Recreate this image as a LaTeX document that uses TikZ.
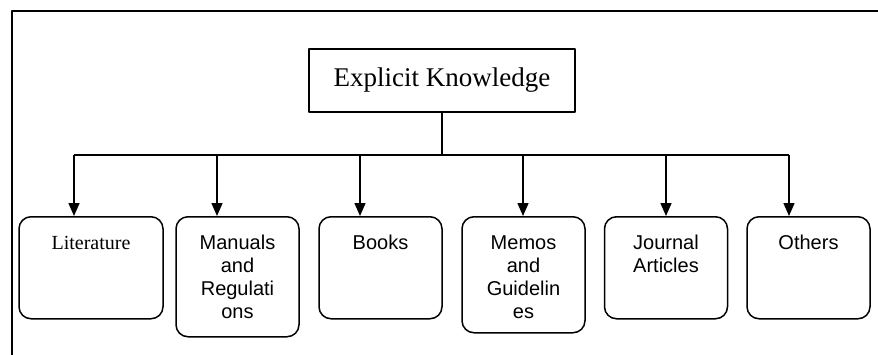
\documentclass[tikz,border=0pt]{standalone}
\usepackage{fontspec}
\setmainfont{Liberation Serif}
\setsansfont{Liberation Sans}
\usetikzlibrary{arrows.meta}

\tikzset{
	kbox/.style={draw, rounded corners=6pt, line width=0.75pt, anchor=north, align=center,
		text width=55.5pt, inner xsep=3pt, inner ysep=4.5pt, text height=12pt, text depth=30pt,
		font=\sffamily\fontsize{10}{11.5}\selectfont},
	topbox/.style={draw, line width=0.75pt, minimum width=133pt, minimum height=31.5pt,
		font=\fontsize{13.5}{16}\selectfont},
	link/.style={line width=0.75pt},
}

\begin{document}
\begin{tikzpicture}[x=0.5pt, y=-0.5pt, line join=round, >={Triangle[length=6.5pt,width=5.5pt]}]
	\useasboundingbox (0,0) rectangle (878,354);
	\clip (0,0) rectangle (878,354);
	% outer frame
	\draw[line width=1pt] (890,11) -- (12,11) -- (12,370);
	% nodes
	\node[topbox] (ek) at (442,80.5) {Explicit Knowledge};
	\node[kbox, text width=66pt, font=\rmfamily\fontsize{10}{11.5}\selectfont] (lit) at (91,216) {Literature};
	\node[kbox, text depth=39pt] (man) at (237.5,216) {Manuals\\and\\Regulati\\ons};
	\node[kbox] (book) at (380.5,216) {Books};
	\node[kbox, text depth=37pt] (memo) at (523.5,216) {Memos\\and\\Guidelin\\es};
	\node[kbox] (jour) at (666,216) {Journal\\Articles};
	\node[kbox] (oth) at (808.5,216) {Others};
	% bus and arrows
	\foreach \b/\x in {lit/74,man/217,book/360,memo/523,jour/666,oth/789}
	{
		\path (\x,155) coordinate (t\b);
		\draw[link,->] (t\b) -- (t\b |- \b.north);
	}
	\draw[link] (tlit) -- (toth) (ek.south) -- (ek.south |- tlit);
\end{tikzpicture}
\end{document}
